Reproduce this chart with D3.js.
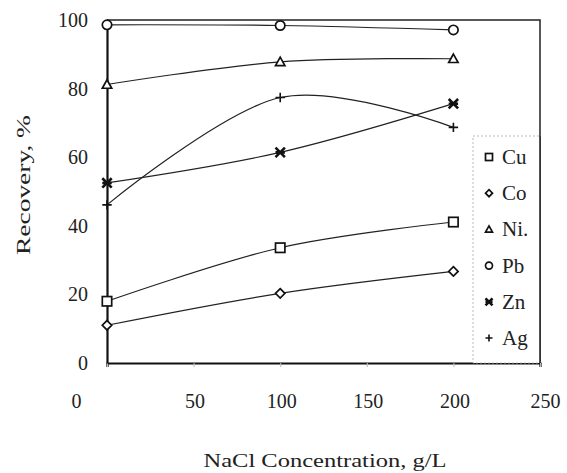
<!DOCTYPE html>
<html>
<head>
<meta charset="utf-8">
<script src="https://cdn.jsdelivr.net/npm/d3@7"></script>
<style>
  body { margin: 0; background: #fff; }
  svg text { font-family: "Liberation Serif", "Times New Roman", Times, "DejaVu Serif", serif; }
</style>
</head>
<body>
<div id="chart"></div>
<script>
const width = 567;
const height = 473;

// data
const concentrations = [0, 100, 200];
const metals = ["Cu", "Co", "Ni.", "Pb", "Zn", "Ag"];
const cuValues = [18, 33.6, 41.1];
const coValues = [11, 20.3, 26.7];
const niValues = [81.2, 87.8, 88.7];
const pbValues = [98.6, 98.4, 97.1];
const znValues = [52.5, 61.4, 75.6];
const agValues = [46.1, 77.4, 68.7];
const xTicks = [0, 50, 100, 150, 200, 250];
const yTicks = [0, 20, 40, 60, 80, 100];

const series = [
    { name: metals[0], shape: "square", values: cuValues },
    { name: metals[1], shape: "diamond", values: coValues },
    { name: metals[2], shape: "triangle", values: niValues },
    { name: metals[3], shape: "circle", values: pbValues },
    { name: metals[4], shape: "star", values: znValues },
    { name: metals[5], shape: "plus", values: agValues }
];

const margin = { top: 20, right: 27, bottom: 110, left: 107 };
const x = d3.scaleLinear().domain([0, 250]).range([margin.left, width - margin.right]);
const y = d3.scaleLinear().domain([0, 100]).range([height - margin.bottom, margin.top]);

const svg = d3.select("#chart")
    .append("svg")
    .attr("width", width)
    .attr("height", height);

// frame (top and right)
svg.append("path")
    .attr("d", `M${x(0)},${y(100)}H${x(250)}V${y(0)}`)
    .attr("fill", "none")
    .attr("stroke", "#222")
    .attr("stroke-width", 1.5);

// axes
const xAxis = svg.append("g")
    .attr("transform", `translate(0,${y(0)})`)
    .call(d3.axisBottom(x).tickValues(xTicks).tickSize(4).tickPadding(27));
xAxis.select(".domain").attr("stroke-width", 2.2).attr("stroke", "#111");
xAxis.selectAll(".tick line").attr("stroke", "#bbb");
xAxis.selectAll("text")
    .attr("font-size", 20)
    .attr("fill", "#222")
    .attr("dx", d => d === 0 ? -31 : (d === 250 ? 5 : 1));

const yAxis = svg.append("g")
    .attr("transform", `translate(${x(0)},0)`)
    .call(d3.axisLeft(y).tickValues(yTicks).tickSize(0).tickPadding(19));
yAxis.select(".domain").attr("stroke-width", 2.2).attr("stroke", "#111");
yAxis.selectAll("text")
    .attr("font-size", 20)
    .attr("fill", "#222");

// axis titles
svg.append("text")
    .attr("transform", `translate(30,185) rotate(-90)`)
    .attr("text-anchor", "middle")
    .attr("font-size", 19)
    .attr("fill", "#222")
    .attr("textLength", 140)
    .attr("lengthAdjust", "spacingAndGlyphs")
    .text("Recovery, %");

svg.append("text")
    .attr("x", 325)
    .attr("y", 467)
    .attr("text-anchor", "middle")
    .attr("font-size", 19)
    .attr("fill", "#222")
    .attr("textLength", 243)
    .attr("lengthAdjust", "spacingAndGlyphs")
    .text("NaCl Concentration, g/L");

// spreadsheet-style smoothing: bezier, end control points sit on the end points
function smoothCurve(context) {
    let pts = [];
    return {
        areaStart() {}, areaEnd() {},
        lineStart() { pts = []; },
        point(px, py) { pts.push([px, py]); },
        lineEnd() {
            if (!pts.length) return;
            context.moveTo(pts[0][0], pts[0][1]);
            for (let i = 0; i < pts.length - 1; i++) {
                const p0 = pts[Math.max(i - 1, 0)];
                const p1 = pts[i];
                const p2 = pts[i + 1];
                const p3 = pts[Math.min(i + 2, pts.length - 1)];
                const c1 = i === 0 ? p1 : [p1[0] + (p2[0] - p0[0]) / 6, p1[1] + (p2[1] - p0[1]) / 6];
                const c2 = i === pts.length - 2 ? p2 : [p2[0] - (p3[0] - p1[0]) / 6, p2[1] - (p3[1] - p1[1]) / 6];
                context.bezierCurveTo(c1[0], c1[1], c2[0], c2[1], p2[0], p2[1]);
            }
        }
    };
}

const line = d3.line()
    .x((d, i) => x(concentrations[i]))
    .y(d => y(d))
    .curve(smoothCurve);

svg.append("g")
    .selectAll("path")
    .data(series)
    .join("path")
    .attr("d", d => line(d.values))
    .attr("fill", "none")
    .attr("stroke", "#222")
    .attr("stroke-width", 1.2);

function drawMarker(g, shape, s) {
    let el;
    if (shape === "square") {
        el = g.append("rect").attr("x", -s).attr("y", -s).attr("width", 2 * s).attr("height", 2 * s);
    } else if (shape === "diamond") {
        el = g.append("path").attr("d", `M0,${-s}L${s},0L0,${s}L${-s},0Z`);
    } else if (shape === "triangle") {
        el = g.append("path").attr("d", `M0,${-s}L${s},${s * 0.8}L${-s},${s * 0.8}Z`);
    } else if (shape === "circle") {
        el = g.append("circle").attr("r", s);
    } else if (shape === "star") {
        g.append("path")
            .attr("d", `M${-s},${-s}L${s},${s}M${-s},${s}L${s},${-s}M${-s},0H${s}`)
            .attr("fill", "none")
            .attr("stroke", "#111")
            .attr("stroke-width", 2.6);
        return;
    } else if (shape === "plus") {
        g.append("path")
            .attr("d", `M${-s},0H${s}M0,${-s}V${s}`)
            .attr("fill", "none")
            .attr("stroke", "#111")
            .attr("stroke-width", 1.6);
        return;
    }
    el.attr("fill", "#fff").attr("stroke", "#111").attr("stroke-width", 1.7);
}

// markers
series.forEach(sr => {
    sr.values.forEach((v, i) => {
        const g = svg.append("g").attr("transform", `translate(${x(concentrations[i])},${y(v)})`);
        drawMarker(g, sr.shape, 4.7);
    });
});

// legend
const legend = svg.append("g").attr("transform", "translate(473,136)");
legend.append("rect")
    .attr("width", 67)
    .attr("height", 227)
    .attr("fill", "#fff")
    .attr("stroke", "#aaa")
    .attr("stroke-width", 0.8)
    .attr("stroke-dasharray", "2,2");
legend.append("line")
    .attr("x1", 67).attr("x2", 67)
    .attr("y1", 0).attr("y2", 227)
    .attr("stroke", "#222")
    .attr("stroke-width", 1.5);

series.forEach((sr, i) => {
    const g = legend.append("g").attr("transform", `translate(16,${21 + i * 36.2})`);
    drawMarker(g, sr.shape, 3.5);
    g.append("text")
        .attr("x", 13)
        .attr("y", 7)
        .attr("font-size", 21)
        .attr("fill", "#222")
        .text(sr.name);
});
</script>
</body>
</html>
